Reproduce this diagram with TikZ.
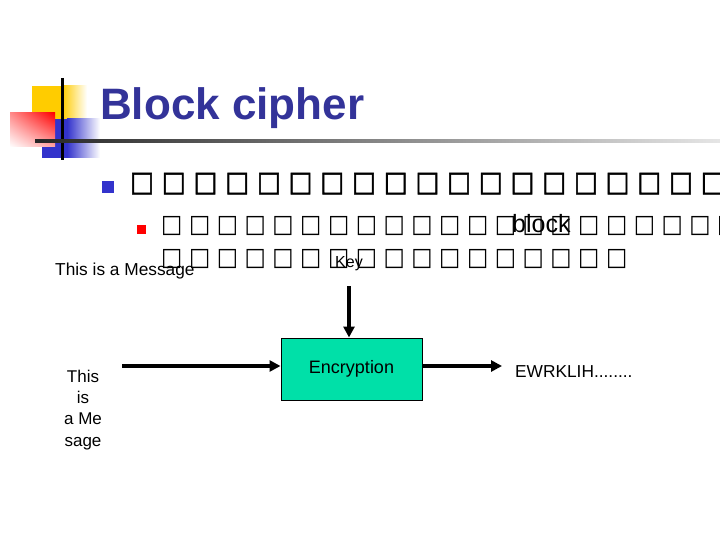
\documentclass[tikz,border=0pt]{standalone}
\usepackage{fontspec}
\setmainfont{Liberation Sans}
\newfontfamily\tofufont{DejaVu Sans}
\newfontfamily\tofuheavy[FakeBold=2]{DejaVu Sans}
\usetikzlibrary{arrows.meta,positioning,shadings}
\definecolor{titleblue}{RGB}{51,51,153}
\definecolor{bulletblue}{RGB}{51,51,204}
\definecolor{boxgreen}{RGB}{0,224,168}
\definecolor{logoyellow}{RGB}{255,204,0}
\tikzset{slidetitle/.style={font=\fontsize{44}{48}\selectfont\bfseries,text=titleblue,inner sep=0,anchor=base west},
    tofubig/.style={font=\tofuheavy\fontsize{28}{30}\selectfont,inner sep=0,anchor=base west},
    tofusmall/.style={font=\tofufont\fontsize{25}{27}\selectfont,inner sep=0,anchor=base west},
    plaintext/.style={font=\fontsize{17.3}{21}\selectfont,inner sep=0},
    bulletsq/.style={rectangle,inner sep=0,minimum size=#1},
    cipherbox/.style={draw,line width=1pt,fill=boxgreen,minimum width=141pt,minimum height=62pt,inner sep=0,font=\fontsize{18}{21}\selectfont},
    flowarrow/.style={line width=3.5pt,-{Triangle[length=11pt,width=11pt]}}
}
\newcommand{\tofurow}[3]
{
% args: (number of glyphs, pitch, horizontal squeeze)
    \foreach \i in {1,...,#1}{\makebox[#2][l]{\scalebox{#3}[1]{□}}}
}
\begin{document}
\begin{tikzpicture}[x=1pt,y=-1pt]
\useasboundingbox (0,0) rectangle (720,540);

% logo

\fill [logoyellow] (32,86) rectangle (62,120);
\shade [left color=logoyellow,right color=white] (62,86) rectangle (87,120);
\fill [bulletblue] (42,119) rectangle (67,158);
\shade [left color=bulletblue,right color=white] (67,119) rectangle (100,158);
\shade [upper left=red!45,upper right=red,lower left=white,lower right=red!35] (10,113) rectangle (55,147);
\draw [line width=3pt] (62,78) -- (62,160);
\shade [left color=black!85,right color=black!10] (35,139.5) rectangle (720,142.5);

% title and bullets

\node (title) at (100,120) [slidetitle] {Block cipher};

\node (bulA) at (108,187) [bulletsq=12pt,fill=bulletblue] {};
\node (rowA) at (130,191) [tofubig] {\tofurow{19}{31.7pt}{0.9}};

\node (bulB) at (141.5,229.5) [bulletsq=9pt,fill=red] {};
\node (rowB) at (161,233) [tofusmall] {\tofurow{21}{27.8pt}{0.9}};
\node (rowC) at (161,265) [tofusmall] {\tofurow{17}{27.8pt}{0.9}};
\node (block) at (512,233) [plaintext,anchor=base west,font=\fontsize{25}{28}\selectfont] {block};

% encryption

\node (msg) at (55,275) [plaintext,anchor=base west] {This is a Message};
\node (key) at (335,267) [plaintext,anchor=base west,font=\fontsize{16}{19}\selectfont] {Key};
\node (enc) at (351.5,369) [cipherbox] {Encryption};
\node (stack) at (83,370) [plaintext,anchor=north,align=center,font=\fontsize{17}{21.2}\selectfont] {This\\is\\a Me\\sage};
\node (cipher) at (515,377) [plaintext,anchor=base west] {EWRKLIH........};

\coordinate (msgstart) at (122,366);
\coordinate (keytop) at (349,286);
\coordinate (outend) at (502,366);

\draw [flowarrow] (msgstart) -- (msgstart -| enc.west);
\draw [flowarrow] (keytop) -- (keytop |- enc.north);
\draw [flowarrow] (outend -| enc.east) -- (outend);

\end{tikzpicture}
\end{document}
